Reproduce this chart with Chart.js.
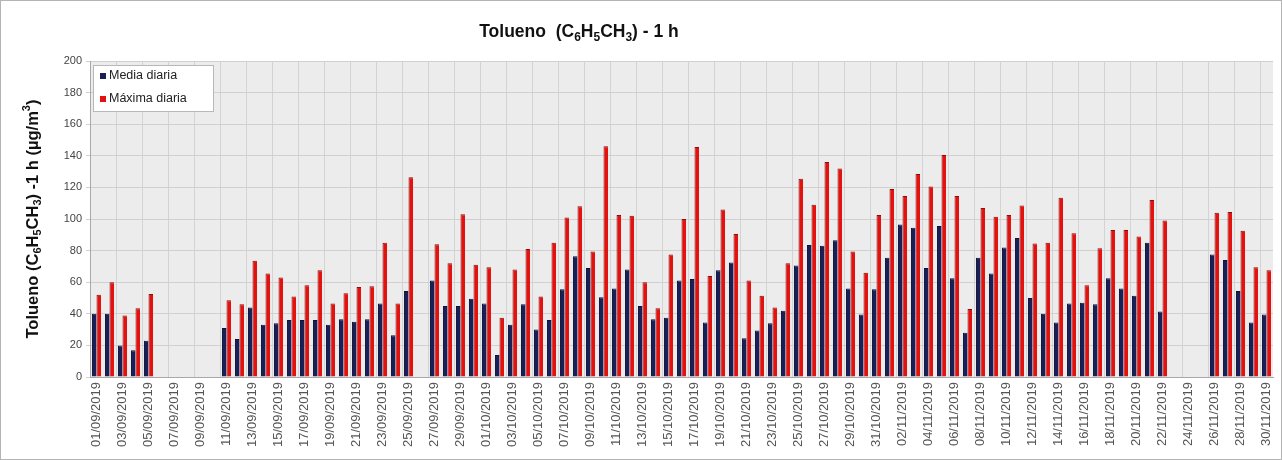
<!DOCTYPE html>
<html>
<head>
<meta charset="utf-8">
<script src="https://cdn.jsdelivr.net/npm/chart.js@4"></script>
<style>
  body { margin: 0; background: #fff; }
  #marco { width: 1280px; height: 458px; border: 1px solid #b4b4b4; }
  canvas { display: block; }
</style>
</head>
<body>
<div id="marco"><canvas id="grafico" width="1280" height="458"></canvas></div>
<script>
// Tolueno 1 h: media y máxima diaria, sep-nov 2019
const fechas = [
  '01/09/2019', '02/09/2019', '03/09/2019', '04/09/2019', '05/09/2019', '06/09/2019', '07/09/2019', '08/09/2019', '09/09/2019', '10/09/2019',
  '11/09/2019', '12/09/2019', '13/09/2019', '14/09/2019', '15/09/2019', '16/09/2019', '17/09/2019', '18/09/2019', '19/09/2019', '20/09/2019',
  '21/09/2019', '22/09/2019', '23/09/2019', '24/09/2019', '25/09/2019', '26/09/2019', '27/09/2019', '28/09/2019', '29/09/2019', '30/09/2019',
  '01/10/2019', '02/10/2019', '03/10/2019', '04/10/2019', '05/10/2019', '06/10/2019', '07/10/2019', '08/10/2019', '09/10/2019', '10/10/2019',
  '11/10/2019', '12/10/2019', '13/10/2019', '14/10/2019', '15/10/2019', '16/10/2019', '17/10/2019', '18/10/2019', '19/10/2019', '20/10/2019',
  '21/10/2019', '22/10/2019', '23/10/2019', '24/10/2019', '25/10/2019', '26/10/2019', '27/10/2019', '28/10/2019', '29/10/2019', '30/10/2019',
  '31/10/2019',
  '01/11/2019', '02/11/2019', '03/11/2019', '04/11/2019', '05/11/2019', '06/11/2019', '07/11/2019', '08/11/2019', '09/11/2019', '10/11/2019',
  '11/11/2019', '12/11/2019', '13/11/2019', '14/11/2019', '15/11/2019', '16/11/2019', '17/11/2019', '18/11/2019', '19/11/2019', '20/11/2019',
  '21/11/2019', '22/11/2019', '23/11/2019', '24/11/2019', '25/11/2019', '26/11/2019', '27/11/2019', '28/11/2019', '29/11/2019', '30/11/2019'
];

// µg/m3 (null = sin datos)
const mediaDiaria = [
  40, 40, 20, 17, 23, null, null, null, null, null,
  31, 24, 44, 33, 34, 36, 36, 36, 33, 36.5,
  35, 36.5, 46.5, 26.5, 54.5, null, 61, 45, 45, 49.5,
  46.5, 14, 33, 46, 30, 36, 55.5, 76.5, 69, 50.5,
  56, 68, 45, 36.5, 37.5, 61, 62, 34.5, 67.5, 72.5,
  24.5, 29.5, 34, 42, 70.5, 83.5, 83, 86.5, 56, 39.5,
  55.5,
  75.5, 96.5, 94.5, 69, 95.5, 62.5, 28, 75.5, 65.5, 82,
  88, 50, 40, 34.5, 46.5, 47, 46, 62.5, 56, 51.5,
  85, 41.5, null, null, null, 77.5, 74, 54.5, 34.5, 39.5
];

const maximaDiaria = [
  52, 60, 39, 43.5, 52.5, null, null, null, null, null,
  48.5, 46, 73.5, 65.5, 63, 51, 58, 67.5, 46.5, 53,
  57, 57.5, 85, 46.5, 126.5, null, 84, 72, 103, 71,
  69.5, 37.5, 68, 81, 51, 85, 101, 108, 79.5, 146,
  102.5, 102, 60, 43.5, 77.5, 100, 145.5, 64, 106, 90.5,
  61, 51.5, 44, 72, 125.5, 109, 136, 132, 79.5, 66,
  102.5,
  119, 114.5, 128.5, 120.5, 140.5, 114.5, 43, 107, 101.5, 102.5,
  108.5, 84.5, 85, 113.5, 91, 58, 81.5, 93, 93, 89,
  112, 99, null, null, null, 104, 104.5, 92.5, 69.5, 67.5
];

const ejeY = { min: 0, max: 200, paso: 10, etiquetaCada: 20 };

const AZUL = '#18205a';
const ROJO = '#e3120f';
const FUENTE = '"Liberation Sans", Arial, sans-serif';

// texto con subíndices / superíndices
function textoRico(ctx, partes, x, y, size) {
  const chico = Math.round(size * 0.68);
  const fuente = (tipo) => 'bold ' + (tipo ? chico : size) + 'px ' + FUENTE;
  let total = 0;
  partes.forEach(([t, tipo]) => { ctx.font = fuente(tipo); total += ctx.measureText(t).width; });
  let cx = x - total / 2;
  ctx.textBaseline = 'middle';
  ctx.textAlign = 'left';
  partes.forEach(([t, tipo]) => {
    ctx.font = fuente(tipo);
    let dy = 0;
    if (tipo === 'sub') dy = size * 0.3;
    if (tipo === 'sup') dy = -size * 0.35;
    ctx.fillText(t, cx, y + dy);
    cx += ctx.measureText(t).width;
  });
}

const titulo = [['Tolueno  (C', ''], ['6', 'sub'], ['H', ''], ['5', 'sub'], ['CH', ''], ['3', 'sub'], [') - 1 h', '']];
const tituloY = [['Tolueno (C', ''], ['6', 'sub'], ['H', ''], ['5', 'sub'], ['CH', ''], ['3', 'sub'], [') -1 h (µg/m', ''], ['3', 'sup'], [')', '']];

const fondoYTextos = {
  id: 'fondoYTextos',
  beforeDraw(chart) {
    const { ctx, chartArea: a } = chart;
    ctx.save();
    ctx.fillStyle = '#ececec';
    ctx.fillRect(a.left, a.top, a.right - a.left, a.bottom - a.top);
    ctx.restore();
  },
  afterDraw(chart) {
    const { ctx, chartArea: a } = chart;
    ctx.save();
    ctx.fillStyle = '#111';
    textoRico(ctx, titulo, 578, 31, 17.5);
    ctx.translate(32, (a.top + a.bottom) / 2);
    ctx.rotate(-Math.PI / 2);
    textoRico(ctx, tituloY, 0, 0, 16.5);
    ctx.restore();

    // leyenda
    const lx = a.left + 3, ly = a.top + 4, lw = 120, lh = 46;
    ctx.save();
    ctx.fillStyle = '#fff';
    ctx.strokeStyle = '#b8b8b8';
    ctx.lineWidth = 1;
    ctx.fillRect(lx, ly, lw, lh);
    ctx.strokeRect(lx + 0.5, ly + 0.5, lw, lh);
    ctx.font = '12.5px ' + FUENTE;
    ctx.textBaseline = 'middle';
    chart.data.datasets.forEach((ds, i) => {
      const y = ly + 11 + i * 23;
      ctx.fillStyle = ds.backgroundColor;
      ctx.fillRect(lx + 7, y - 3, 6, 6);
      ctx.fillStyle = '#222';
      ctx.fillText(ds.label, lx + 16, y);
    });
    ctx.restore();
  }
};

new Chart(document.getElementById('grafico'), {
  type: 'bar',
  data: {
    labels: fechas,
    datasets: [
      {
        label: 'Media diaria',
        data: mediaDiaria,
        backgroundColor: AZUL,
        borderColor: '#0c1035',
        borderWidth: { left: 1, right: 0, top: 1, bottom: 0 },
        categoryPercentage: 0.7,
        barPercentage: 1
      },
      {
        label: 'Máxima diaria',
        data: maximaDiaria,
        backgroundColor: ROJO,
        borderColor: '#8e0c0c',
        borderWidth: { left: 1, right: 0, top: 1, bottom: 0 },
        categoryPercentage: 0.7,
        barPercentage: 1
      }
    ]
  },
  options: {
    responsive: false,
    animation: false,
    devicePixelRatio: 1,
    layout: { padding: { top: 60, right: 8, left: 0, bottom: 0 } },
    plugins: {
      legend: { display: false },
      title: { display: false },
      tooltip: { enabled: false }
    },
    scales: {
      x: {
        offset: true,
        grid: {
          offset: true,
          drawTicks: false,
          color: (c) => (c.index % 2 === 0 ? '#d3d3d3' : 'rgba(0,0,0,0)')
        },
        border: { color: '#a8a8a8' },
        ticks: {
          autoSkip: false,
          minRotation: 90,
          maxRotation: 90,
          padding: 5,
          color: '#555',
          font: { family: FUENTE, size: 13 },
          callback: function (v, i) { return i % 2 === 0 ? this.getLabelForValue(v) : ''; }
        },
        afterFit: (s) => {
          s.height = 82;
          s.paddingLeft = 0;
          s.paddingRight = 0;
        }
      },
      y: {
        min: ejeY.min,
        max: ejeY.max,
        grid: {
          tickLength: 4,
          color: (c) => (c.tick && c.tick.value % ejeY.etiquetaCada === 0 ? '#d0d0d0' : '#dedede')
        },
        border: { color: '#a8a8a8' },
        ticks: {
          stepSize: ejeY.paso,
          padding: 4,
          color: '#444',
          font: { family: FUENTE, size: 11 },
          callback: (v) => (v % ejeY.etiquetaCada === 0 ? v : '')
        },
        afterFit: (s) => {
          s.width = 89;
          s.paddingTop = 0;
          s.paddingBottom = 0;
        }
      }
    }
  },
  plugins: [fondoYTextos]
});
</script>
</body>
</html>
